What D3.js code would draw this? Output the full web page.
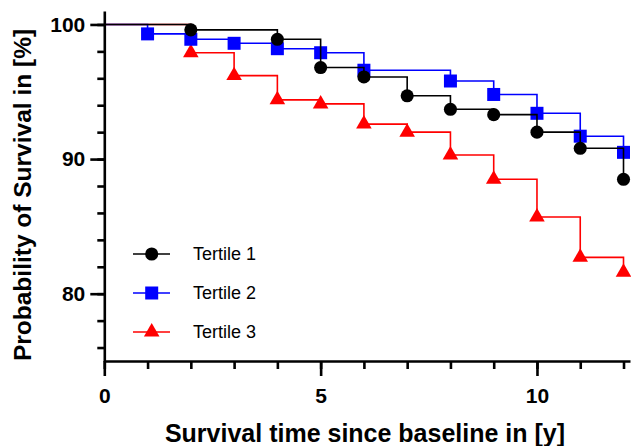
<!DOCTYPE html>
<html>
<head>
<meta charset="utf-8">
<script src="https://cdn.jsdelivr.net/npm/d3@7"></script>
<style>
  body { margin: 0; background: #fff; }
  svg { display: block; font-family: "Liberation Sans", Arial, sans-serif; }
</style>
</head>
<body>
<svg id="chart" width="631" height="446"></svg>
<script>
// Kaplan-Meier estimates (year, survival %)
const years1 = [0, 2, 4, 5, 6, 7, 8, 9, 10, 11, 12];
const tertile1 = [100, 99.6, 98.9, 96.8, 96.1, 94.7, 93.7, 93.3, 92.0, 90.8, 88.5];

const years2 = [0, 1, 2, 3, 4, 5, 6, 8, 9, 10, 11, 12];
const tertile2 = [100, 99.3, 98.9, 98.6, 98.2, 97.9, 96.6, 95.8, 94.8, 93.4, 91.7, 90.5];

const years3 = [0, 2, 3, 4, 5, 6, 7, 8, 9, 10, 11, 12];
const tertile3 = [100, 97.9, 96.2, 94.4, 94.1, 92.6, 92.0, 90.3, 88.5, 85.7, 82.7, 81.6];

const seriesNames = ["Tertile 1", "Tertile 2", "Tertile 3"];
const xMajorTicks = [0, 5, 10];
const xMinorTicks = d3.range(0, 13, 1);
const yMajorTicks = [80, 90, 100];
const yMinorTicks = d3.range(76, 101, 2);

const svg = d3.select('#chart');

const x = d3.scaleLinear().domain([0, 12.15]).range([104.3, 630]);
const y = d3.scaleLinear().domain([75, 101]).range([361, 11]);

const series = [
  { name: seriesNames[2], xs: years3, ys: tertile3, color: '#ff0000', symbol: d3.symbolTriangle, size: 105 },
  { name: seriesNames[1], xs: years2, ys: tertile2, color: '#0000ff', symbol: d3.symbolSquare, size: 169 },
  { name: seriesNames[0], xs: years1, ys: tertile1, color: '#000000', symbol: d3.symbolCircle, size: 135 }
];

const line = d3.line()
  .x(d => x(d[0]))
  .y(d => y(d[1]))
  .curve(d3.curveStepAfter);

// Survival curves, tertile 3 at the back
series.forEach(s => {
  const pts = s.xs.map((t, i) => [t, s.ys[i]]);
  svg.append('path')
    .attr('d', line(pts))
    .attr('fill', 'none')
    .attr('stroke', s.color)
    .attr('stroke-width', 1.6);

  svg.append('g')
    .selectAll('path')
    .data(pts.slice(1))
    .join('path')
    .attr('transform', d => `translate(${x(d[0])},${y(d[1])})`)
    .attr('d', d3.symbol().type(s.symbol).size(s.size))
    .attr('fill', s.color);
});

// Axes
svg.append('g')
  .attr('transform', `translate(0,${y(75)})`)
  .call(d3.axisBottom(x).tickValues(xMajorTicks).tickSize(15).tickSizeOuter(0).tickPadding(12));
svg.append('g')
  .attr('transform', `translate(0,${y(75)})`)
  .call(d3.axisBottom(x).tickValues(xMinorTicks).tickSize(8).tickFormat(''))
  .call(g => g.select('.domain').remove());

svg.append('g')
  .attr('transform', `translate(${x(0)},0)`)
  .call(d3.axisLeft(y).tickValues(yMajorTicks).tickSize(14).tickSizeOuter(0).tickPadding(5));
svg.append('g')
  .attr('transform', `translate(${x(0)},0)`)
  .call(d3.axisLeft(y).tickValues(yMinorTicks).tickSize(7).tickFormat(''))
  .call(g => g.select('.domain').remove());

svg.selectAll('.domain, .tick line')
  .attr('stroke', '#000')
  .attr('stroke-width', 2.6);

svg.selectAll('.tick text')
  .attr('fill', '#000')
  .attr('font-family', '"Liberation Sans", Arial, sans-serif')
  .attr('font-size', 21)
  .attr('font-weight', 'bold');

// Axis titles
svg.append('text')
  .attr('x', 365)
  .attr('y', 442)
  .attr('text-anchor', 'middle')
  .attr('font-size', 25)
  .attr('font-weight', 'bold')
  .text('Survival time since baseline in [y]');

svg.append('text')
  .attr('transform', 'translate(31,195) rotate(-90)')
  .attr('text-anchor', 'middle')
  .attr('font-size', 24.5)
  .attr('font-weight', 'bold')
  .text('Probability of Survival in [%]');

// Legend
const legendRows = [254, 293, 332];
const legend = svg.append('g');
series.slice().reverse().forEach((s, i) => {
  const row = legend.append('g').attr('transform', `translate(0,${legendRows[i]})`);
  row.append('line')
    .attr('x1', 133).attr('x2', 170)
    .attr('stroke', s.color)
    .attr('stroke-width', 1.6);
  row.append('path')
    .attr('transform', 'translate(151.7,0)')
    .attr('d', d3.symbol().type(s.symbol).size(s.size))
    .attr('fill', s.color);
  row.append('text')
    .attr('x', 193)
    .attr('y', 0)
    .attr('dy', '0.35em')
    .attr('font-size', 18)
    .text(s.name);
});
</script>
</body>
</html>
